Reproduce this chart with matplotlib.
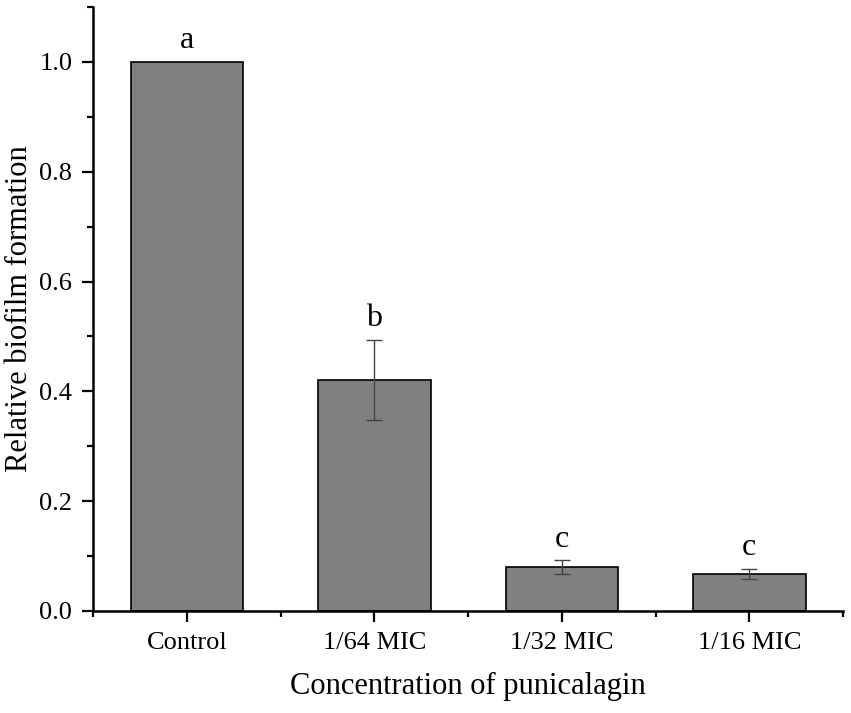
import matplotlib.pyplot as plt
from matplotlib.ticker import MultipleLocator, FixedLocator

plt.rcParams['font.family'] = ['Liberation Serif', 'DejaVu Serif']

groups = ["Control", "1/64 MIC", "1/32 MIC", "1/16 MIC"]
biofilm = [1.0, 0.42, 0.080, 0.067]
errors = [0.0, 0.073, 0.012, 0.009]
letters = ["a", "b", "c", "c"]

fig = plt.figure(figsize=(8.51, 7.13), dpi=100)
ax = fig.add_axes([0.1093, 0.1431, 0.8813, 0.8471])

x = list(range(len(groups)))
ax.bar(x, biofilm, width=0.6, color='#808080', edgecolor='black', linewidth=1.2, zorder=2)
ax.errorbar(x[1:], biofilm[1:], yerr=errors[1:], fmt='none', ecolor='#444444',
            elinewidth=1.0, capsize=5.5, capthick=1.0, zorder=3)

for xi, v, e, lab in zip(x, biofilm, errors, letters):
    ax.annotate(lab, (xi, v + e), xytext=(0, 10), textcoords='offset points',
                ha='center', va='baseline', fontsize=23)

ax.set_xlim(-0.5, 3.5)
ax.set_ylim(0, 1.1)
ax.set_xticks(x)
ax.set_xticklabels(groups)
ax.xaxis.set_minor_locator(FixedLocator([-0.5, 0.5, 1.5, 2.5, 3.5]))
ax.yaxis.set_major_locator(MultipleLocator(0.2))
ax.yaxis.set_minor_locator(MultipleLocator(0.1))
ax.yaxis.set_major_formatter(plt.FormatStrFormatter('%.1f'))

ax.spines['top'].set_visible(False)
ax.spines['right'].set_visible(False)
ax.spines['left'].set_linewidth(1.8)
ax.spines['bottom'].set_linewidth(1.8)
ax.tick_params(axis='both', which='major', direction='out', length=8, width=1.6,
               labelsize=19, pad=7)
ax.tick_params(axis='both', which='minor', direction='out', length=4.5, width=1.6)

ax.set_xlabel("Concentration of punicalagin", fontsize=22, labelpad=13)
ax.set_ylabel("Relative biofilm formation", fontsize=22, labelpad=4)

fig.savefig("out.png", dpi=100)
